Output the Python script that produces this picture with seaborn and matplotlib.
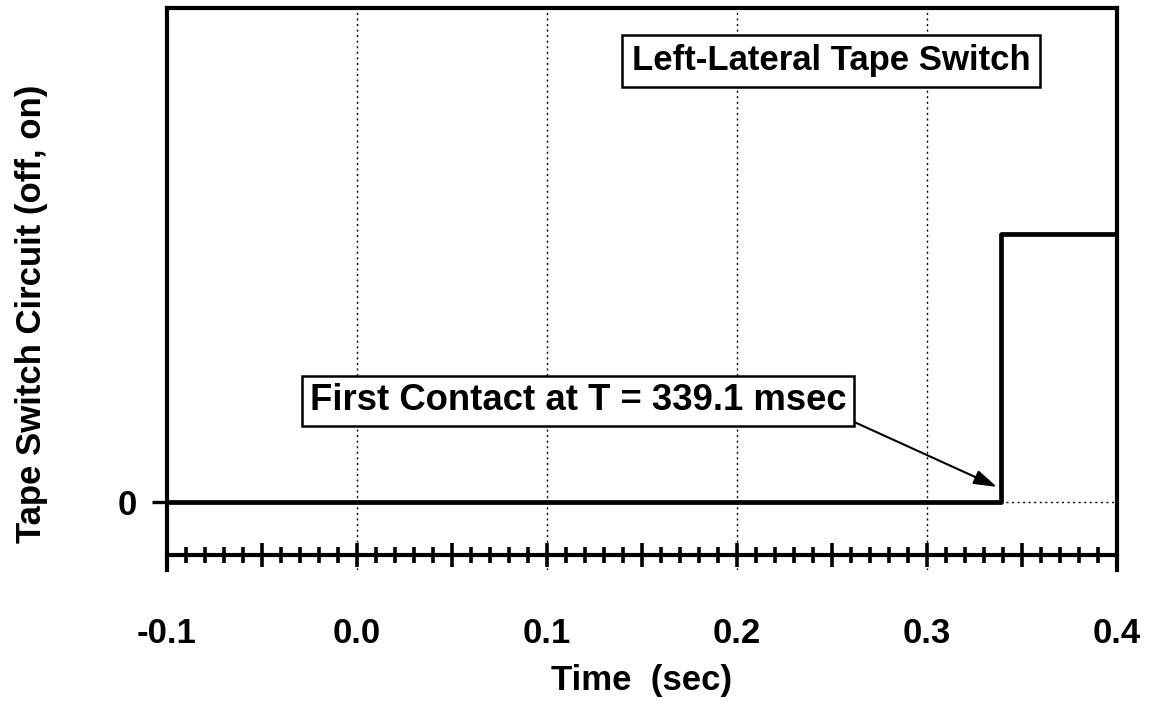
import numpy as np
import matplotlib.pyplot as plt
import seaborn as sns
from matplotlib.ticker import MultipleLocator, FuncFormatter

# step signal of the tape switch (0 = off, 1 = on)
time_sec = [-0.1, 0.3391, 0.4]
switch_state = [0, 1, 1]

x_ticks = [-0.1, 0.0, 0.1, 0.2, 0.3, 0.4]
x_tick_labels = ['-0.1', '0.0', '0.1', '0.2', '0.3', '0.4']
y_ticks = [0]
y_tick_labels = ['0']

contact_time = 0.3368
contact_label = 'First Contact at T = 339.1 msec'
panel_title = 'Left-Lateral Tape Switch'

sns.set_theme(style='ticks')
plt.rcParams['font.family'] = ['Liberation Sans', 'DejaVu Sans']
plt.rcParams['font.weight'] = 'bold'
plt.rcParams['axes.labelweight'] = 'bold'
plt.rcParams['axes.edgecolor'] = 'black'
plt.rcParams['text.color'] = 'black'
plt.rcParams['axes.labelcolor'] = 'black'
plt.rcParams['xtick.color'] = 'black'
plt.rcParams['ytick.color'] = 'black'

fig = plt.figure(figsize=(11.53, 7.01), dpi=100)
ax = fig.add_axes([0.1448, 0.1869, 0.824, 0.8017])

sns.lineplot(x=time_sec, y=switch_state, drawstyle='steps-post',
             color='black', linewidth=3.4, ax=ax)

ax.set_xlim(-0.1, 0.4)
ax.set_ylim(-0.254, 1.843)

for side in ['left', 'right', 'top']:
    ax.spines[side].set_linewidth(3)
ax.spines['bottom'].set_visible(False)

# main axis: x only used for the dotted grid
ax.set_xticks(x_ticks)
ax.tick_params(axis='x', length=0, labelbottom=False)
ax.set_yticks(y_ticks, labels=y_tick_labels)
ax.tick_params(axis='y', direction='out', length=11, width=2.4, pad=11,
               labelsize=25, colors='black')
ax.grid(True, color='black', linestyle=(0, (1.5, 2.5)), linewidth=1.0)
ax.set_axisbelow(True)

ax.set_ylabel('Tape Switch Circuit (off, on)', fontsize=25, color='black')
ax.yaxis.set_label_coords(-0.125, 0.4555)

# separate time axis drawn just above the bottom of the frame
sec = ax.secondary_xaxis(0.027)
lab = dict(zip(x_ticks, x_tick_labels))
sec.xaxis.set_major_locator(MultipleLocator(0.05))
sec.xaxis.set_minor_locator(MultipleLocator(0.01))
sec.xaxis.set_major_formatter(
    FuncFormatter(lambda v, p: next((s for k, s in lab.items() if abs(k - v) < 1e-6), '')))
sec.spines['bottom'].set_linewidth(3)
sec.tick_params(axis='x', which='major', direction='inout', length=17, width=2.6,
                pad=36, labelsize=25, colors='black')
sec.tick_params(axis='x', which='minor', direction='inout', length=12, width=2.6,
                colors='black')
sec.set_xlabel('Time  (sec)', fontsize=25, labelpad=10, color='black')

ax.text(0.699, 0.906, panel_title, transform=ax.transAxes, ha='center', va='center',
        fontsize=25, color='black',
        bbox=dict(boxstyle='square,pad=0.27', fc='white', ec='black', lw=1.8))

ax.annotate(contact_label, xy=(contact_time, 0.056), xytext=(0.1163, 0.377),
            ha='center', va='center', fontsize=26.3, color='black',
            bbox=dict(boxstyle='square,pad=0.2', fc='white', ec='black', lw=1.8),
            arrowprops=dict(arrowstyle='-|>,head_length=0.7,head_width=0.22',
                            color='black', lw=1.5, mutation_scale=20,
                            shrinkA=0, shrinkB=0, relpos=(1, 0)))

fig.savefig('out.png', dpi=100)
